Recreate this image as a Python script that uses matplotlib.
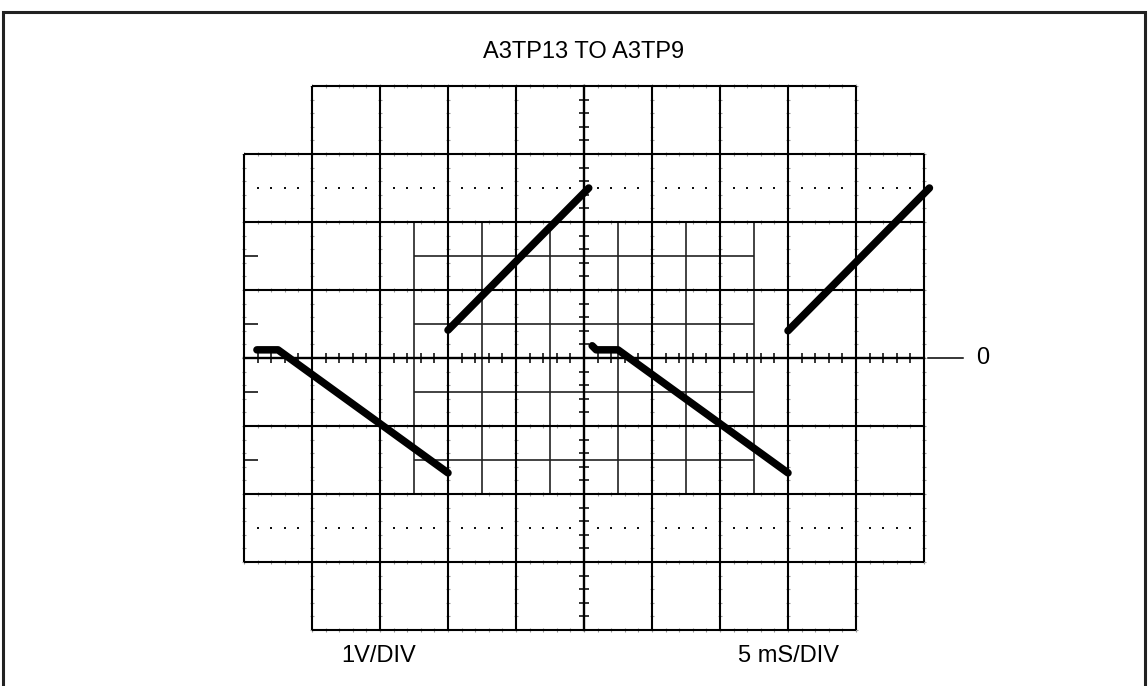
import numpy as np
import matplotlib.pyplot as plt
from matplotlib.collections import LineCollection

plt.rcParams['font.family'] = ['Liberation Sans', 'DejaVu Sans']

# Scope settings / labels
title = "A3TP13 TO A3TP9"
volt_label = "1V/DIV"
time_label = "5 mS/DIV"
zero_label = "0"

# Trace, in screen divisions (x: time div, y: volt div)
fall1_x = [-4.81, -4.50, -2.00]
fall1_y = [0.12, 0.12, -1.69]
rise1_x = [-2.00, 0.07]
rise1_y = [0.41, 2.50]
fall2_x = [0.12, 0.18, 0.50, 3.00]
fall2_y = [0.18, 0.12, 0.12, -1.69]
rise2_x = [3.00, 5.08]
rise2_y = [0.40, 2.50]

# Pixel geometry of the graticule
W, H = 1148, 686
CX, CY, DIV = 584, 358, 68.0

fig = plt.figure(figsize=(W / 100, H / 100), dpi=100)
ax = fig.add_axes([0, 0, 1, 1])
ax.set_xlim(-CX / DIV, (W - CX) / DIV)
ax.set_ylim((CY - H) / DIV, CY / DIV)
ax.axis('off')

# outer frame
fig.patches.append(plt.Rectangle((3 / W, -0.05), 1142 / W, (H - 12) / H + 0.05,
                                 transform=fig.transFigure, fill=False,
                                 lw=2.2, edgecolor='#222'))

major = []
for y in range(-4, 5):
    if y == 0:
        continue
    span = 4 if abs(y) == 4 else 5
    major.append([(-span, y), (span, y)])
for x in range(-5, 6):
    if x == 0:
        continue
    span = 3 if abs(x) == 5 else 4
    major.append([(x, -span), (x, span)])

fine = []
for x in [-2.5, -1.5, -0.5, 0.5, 1.5, 2.5]:
    fine.append([(x, -2), (x, 2)])
for y in [-1.5, -0.5, 0.5, 1.5]:
    fine.append([(-2.5, y), (2.5, y)])

# small grey marks along the major lines
marks = []
m = 0.03
for seg in major:
    (x0, y0), (x1, y1) = seg
    if y0 == y1:
        for t in np.arange(x0, x1 + 1e-6, 0.2):
            marks.append([(t, y0 - m), (t, y0 + m)])
    else:
        for t in np.arange(y0, y1 + 1e-6, 0.2):
            marks.append([(x0 - m, t), (x0 + m, t)])

# center axis ticks
ticks = []
k = 0.075
for t in np.arange(-5, 5 + 1e-6, 0.2):
    ticks.append([(t, -k), (t, k)])
for t in np.arange(-4, 4 + 1e-6, 0.2):
    ticks.append([(-k, t), (k, t)])
# left edge ticks
for y in [-1.5, -0.5, 0.5, 1.5]:
    ticks.append([(-5, y), (-4.8, y)])

ax.add_collection(LineCollection(fine, colors='#222', linewidths=1.2))
ax.add_collection(LineCollection(marks, colors='#999', linewidths=0.8))
ax.add_collection(LineCollection(major, colors='black', linewidths=1.5))
ax.add_collection(LineCollection(ticks, colors='black', linewidths=1.1))
ax.plot([-5, 5], [0, 0], color='black', lw=1.7)
ax.plot([0, 0], [-4, 4], color='black', lw=1.7)

# dotted rows at +/- 2.5 div
dots_x = [i * 0.2 for i in range(-25, 26) if i % 5 != 0]
for y in [-2.5, 2.5]:
    ax.plot(dots_x, [y] * len(dots_x), ls='none', marker='s', ms=1.5,
            color='#111', mew=0)

# zero reference marker
ax.plot([(928 - CX) / DIV, (963 - CX) / DIV], [0, 0], color='black', lw=1.1)

# trace
for xs, ys in [(fall1_x, fall1_y), (rise1_x, rise1_y),
               (fall2_x, fall2_y), (rise2_x, rise2_y)]:
    ax.plot(xs, ys, color='black', lw=5.4, solid_capstyle='round',
            solid_joinstyle='round', zorder=5)

ax.text(0, (CY - 52) / DIV, title, ha='center', va='center', fontsize=17)
ax.text((379 - CX) / DIV, (CY - 656) / DIV, volt_label, ha='center',
        va='center', fontsize=17)
ax.text((789 - CX) / DIV, (CY - 656) / DIV, time_label, ha='center',
        va='center', fontsize=17)
ax.text((983 - CX) / DIV, 0, zero_label, ha='center', va='center', fontsize=17)

fig.savefig("out.png", dpi=100)
